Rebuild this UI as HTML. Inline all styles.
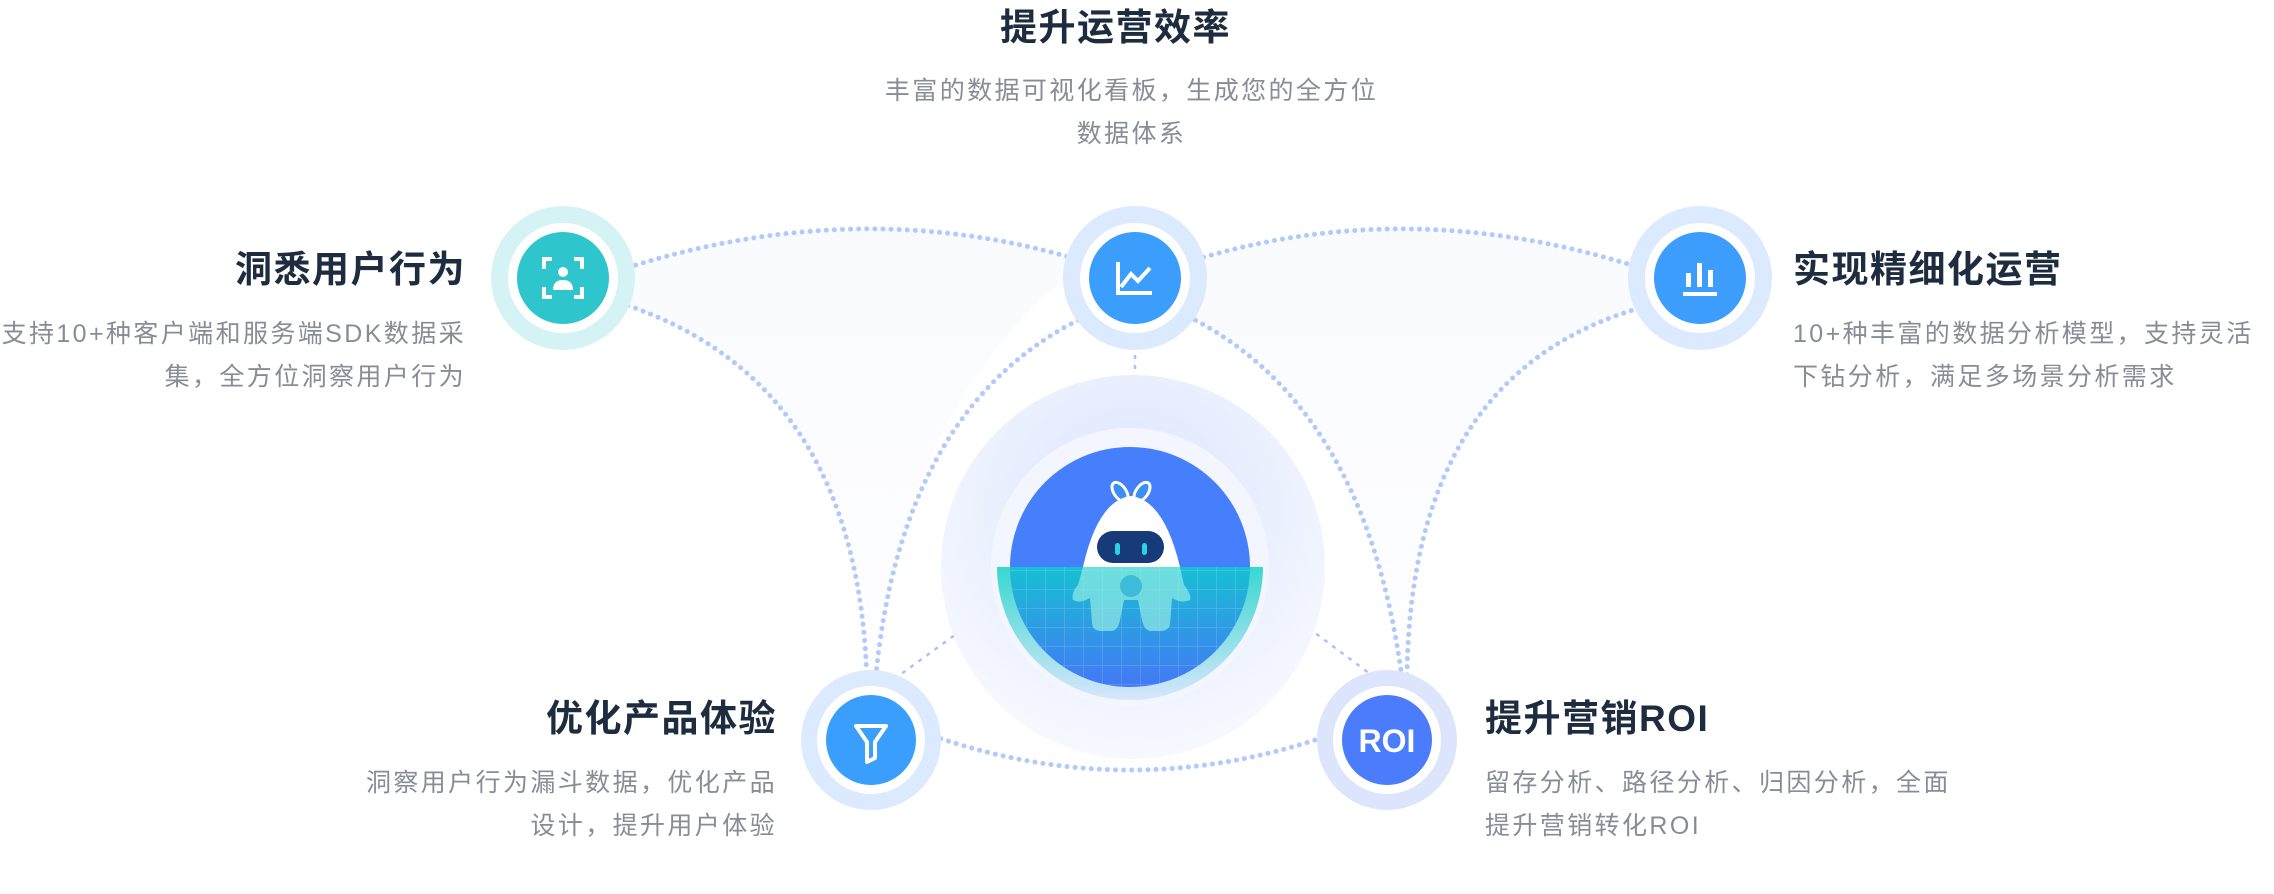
<!DOCTYPE html>
<html><head><meta charset="utf-8"><style>
html,body{margin:0;padding:0;background:#fff;}
#w{position:relative;width:2274px;height:894px;overflow:hidden;font-family:"Liberation Sans","Noto Sans CJK SC",sans-serif;}
.t{position:absolute;font-size:37px;font-weight:700;color:#1e2c40;white-space:nowrap;line-height:40px;letter-spacing:1.5px;}
.d{position:absolute;font-size:25px;color:#878c96;line-height:43px;white-space:nowrap;letter-spacing:2.4px;}
svg{position:absolute;left:0;top:0;}
</style></head><body><div id="w">
<svg width="2274" height="894" viewBox="0 0 2274 894">
<defs>
<radialGradient id="halo" cx="0.5" cy="0.35" r="0.65"><stop offset="0" stop-color="#dbe4fd"/><stop offset="1" stop-color="#f7f9ff"/></radialGradient>
<linearGradient id="water" x1="0" y1="0" x2="0" y2="1"><stop offset="0" stop-color="#17c0d3"/><stop offset="1" stop-color="#4378f5"/></linearGradient>
<linearGradient id="band" x1="0" y1="0" x2="0" y2="1"><stop offset="0" stop-color="#38d8cf"/><stop offset="1" stop-color="#d8e6fc"/></linearGradient>
<linearGradient id="fill" x1="0" y1="0" x2="0" y2="1"><stop offset="0" stop-color="#f3f6fe"/><stop offset="1" stop-color="#fdfdff"/></linearGradient>
<pattern id="grid" width="19" height="19" patternUnits="userSpaceOnUse"><path d="M0 0H19M0 0V19" stroke="#ffffff" stroke-opacity="0.18" stroke-width="1.5" fill="none"/></pattern>
</defs>
<path d="M620 270 Q860 192 1086 262 Q900 400 875 685 Q860 380 620 303 Z" fill="url(#fill)" opacity="0.5"/>
<path d="M1188 262 Q1410 192 1647 270 L1647 306 Q1410 370 1407 678 Q1365 400 1181 313 Z" fill="url(#fill)" opacity="0.5"/>
<g fill="none" stroke="#9fbefa" stroke-linecap="round" stroke-width="5" stroke-dasharray="0.1 8" opacity="0.8">
<path d="M620 270 Q860 192 1086 262"/>
<path d="M1188 262 Q1410 192 1647 270"/>
<path d="M620 303 Q860 380 867 685"/>
<path d="M1093 313 Q900 400 875 685"/>
<path d="M1181 313 Q1365 400 1402 678"/>
<path d="M1647 306 Q1410 370 1407 678"/>
<path d="M933 736 Q1130 804 1327 736"/>
</g>
<g fill="none" stroke="#a9c3fa" stroke-width="2.5" stroke-dasharray="4 6">
<path d="M886 685 L1006 598"/><path d="M1268 598 L1385 685"/><path d="M1135 335 L1135 423"/>
</g>
<circle cx="1133" cy="567" r="192" fill="url(#halo)"/>
<circle cx="1130" cy="567" r="139" fill="#f3f6fe"/>
<circle cx="1130" cy="567" r="120" fill="#467ffc"/>
<path d="M997 567 H1263 A133 133 0 0 1 997 567 Z" fill="url(#band)"/>
<path d="M1010 567 H1250 A120 120 0 0 1 1010 567 Z" fill="url(#water)"/>
<path d="M1010 567 H1250 A120 120 0 0 1 1010 567 Z" fill="url(#grid)"/>
<g>
<ellipse cx="1120" cy="492" rx="6" ry="11" transform="rotate(-35 1120 492)" fill="#3b8ef5" stroke="#fff" stroke-width="3"/>
<ellipse cx="1142" cy="492" rx="6" ry="11" transform="rotate(35 1142 492)" fill="#3b8ef5" stroke="#fff" stroke-width="3"/>
<path d="M1083 567 Q1098 500 1131 496 Q1164 500 1180 567 Z" fill="#fff"/>
<rect x="1097" y="531" width="67" height="32" rx="16" fill="#173a78"/>
<rect x="1115" y="543" width="5" height="12" rx="2.5" fill="#2fd2e4"/>
<rect x="1142" y="543" width="5" height="12" rx="2.5" fill="#2fd2e4"/>
<path d="M1083 567 H1180 L1184 585 Q1192 595 1190 600 Q1182 604 1172 598 L1170 625 Q1168 631 1160 631 L1150 631 Q1144 630 1142 620 L1138 600 L1124 600 L1120 620 Q1118 630 1112 631 L1100 631 Q1092 630 1092 622 L1090 598 Q1080 604 1073 600 Q1071 593 1078 585 Z" fill="#9af0e4" opacity="0.65"/>
<circle cx="1131" cy="586" r="11" fill="#2aaed6" opacity="0.7"/>
</g>
<circle cx="563" cy="278" r="72" fill="#d5f3f4"/><circle cx="563" cy="278" r="55" fill="#fff"/><circle cx="563" cy="278" r="46" fill="#2ec5cc"/>
<g stroke="#fff" stroke-width="4" fill="none"><path d="M544 269v-10h8M574 259h8v10M582 287v10h-8M552 297h-8v-10"/></g>
<circle cx="563" cy="272" r="5" fill="#fff"/><path d="M553 290 q0-10 10-10 q10 0 10 10z" fill="#fff"/>
<circle cx="1135" cy="278" r="72" fill="#dbeafe"/><circle cx="1135" cy="278" r="55" fill="#fff"/><circle cx="1135" cy="278" r="46" fill="#3b9dfc"/>
<path d="M1118 262 V293 H1152 M1121 287 L1131 274 L1138 281 L1150 268" stroke="#fff" stroke-width="4" fill="none"/>
<circle cx="1700" cy="278" r="72" fill="#dbeafe"/><circle cx="1700" cy="278" r="55" fill="#fff"/><circle cx="1700" cy="278" r="46" fill="#3d9dfd"/>
<g fill="#fff"><rect x="1686" y="273" width="5" height="14"/><rect x="1697" y="263" width="5" height="24"/><rect x="1708" y="270" width="5" height="17"/><rect x="1683" y="292" width="34" height="4"/></g>
<circle cx="871" cy="740" r="70" fill="#dbeafe"/><circle cx="871" cy="740" r="54" fill="#fff"/><circle cx="871" cy="740" r="45" fill="#3a9ffc"/>
<path d="M856 726 H886 L875 742 V758 L867 762 V742 Z" stroke="#fff" stroke-width="4" fill="none" stroke-linejoin="round"/>
<circle cx="1387" cy="740" r="70" fill="#dde5fd"/><circle cx="1387" cy="740" r="54" fill="#fff"/><circle cx="1387" cy="740" r="45" fill="#4a7cfc"/>
<text x="1387" y="752" text-anchor="middle" font-family="Liberation Sans" font-size="32" font-weight="700" fill="#fff">ROI</text>
</svg>
<div class="t" style="left:1000px;top:8px;">提升运营效率</div>
<div class="d" style="left:860px;top:70px;width:543px;text-align:center;">丰富的数据可视化看板，生成您的全方位<br>数据体系</div>
<div class="t" style="right:1808px;top:250px;">洞悉用户行为</div>
<div class="d" style="right:1808px;top:313px;text-align:right;">支持10+种客户端和服务端SDK数据采<br>集，全方位洞察用户行为</div>
<div class="t" style="left:1793px;top:250px;">实现精细化运营</div>
<div class="d" style="left:1793px;top:313px;">10+种丰富的数据分析模型，支持灵活<br>下钻分析，满足多场景分析需求</div>
<div class="t" style="right:1497px;top:699px;">优化产品体验</div>
<div class="d" style="right:1497px;top:762px;text-align:right;">洞察用户行为漏斗数据，优化产品<br>设计，提升用户体验</div>
<div class="t" style="left:1485px;top:699px;">提升营销ROI</div>
<div class="d" style="left:1485px;top:762px;">留存分析、路径分析、归因分析，全面<br>提升营销转化ROI</div>
</div></body></html>
